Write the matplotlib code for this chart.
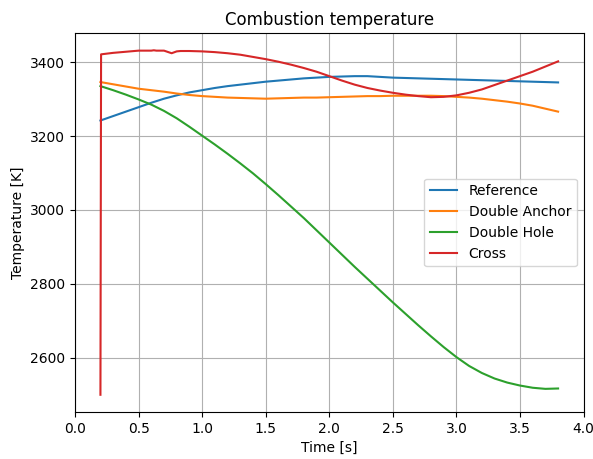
import matplotlib
matplotlib.use("Agg")
import matplotlib.pyplot as plt

# Time grid shared by the smooth series [s]
time = [0.2, 0.3, 0.4, 0.5, 0.6, 0.7, 0.8, 0.9, 1.0, 1.1, 1.2, 1.3, 1.4, 1.5,
        1.6, 1.7, 1.8, 1.9, 2.0, 2.1, 2.2, 2.3, 2.4, 2.5, 2.6, 2.7, 2.8, 2.9,
        3.0, 3.1, 3.2, 3.3, 3.4, 3.5, 3.6, 3.7, 3.8]

reference = [3242, 3254, 3266, 3278, 3290, 3301, 3310, 3318, 3324, 3330, 3335,
             3339, 3343, 3347, 3350, 3353, 3356, 3358, 3360, 3361, 3362, 3362,
             3360, 3358, 3357, 3356, 3355, 3354, 3353, 3352, 3351, 3350, 3349,
             3348, 3347, 3346, 3345]

double_anchor = [3346, 3340, 3334, 3328, 3324, 3320, 3315, 3311, 3308, 3306,
                 3304, 3303, 3302, 3301, 3302, 3303, 3304, 3304, 3305, 3306,
                 3307, 3308, 3308, 3309, 3309, 3309, 3309, 3308, 3306, 3304,
                 3301, 3297, 3293, 3288, 3282, 3274, 3266]

double_hole = [3335, 3324, 3312, 3299, 3285, 3268, 3248, 3225, 3201, 3177,
               3152, 3126, 3099, 3070, 3040, 3009, 2978, 2945, 2912, 2879,
               2846, 2814, 2782, 2750, 2719, 2688, 2658, 2629, 2602, 2578,
               2559, 2544, 2533, 2525, 2519, 2516, 2517]

# Cross case has its own sampling (ignition jump and small glitches)
time_cross = [0.2, 0.205, 0.3, 0.4, 0.5, 0.6, 0.62, 0.64, 0.7, 0.76, 0.8, 0.83,
              0.9, 1.0, 1.1, 1.2, 1.3, 1.4, 1.5, 1.6, 1.7, 1.8, 1.9, 2.0, 2.1,
              2.2, 2.3, 2.4, 2.5, 2.6, 2.7, 2.8, 2.9, 3.0, 3.1, 3.2, 3.3, 3.4,
              3.5, 3.6, 3.7, 3.8]
cross = [2500, 3421, 3425, 3428, 3431, 3431, 3432, 3431, 3431, 3424, 3429, 3430,
         3430, 3429, 3427, 3424, 3420, 3414, 3408, 3401, 3393, 3384, 3374, 3362,
         3350, 3339, 3330, 3323, 3317, 3312, 3308, 3305, 3306, 3310, 3317, 3326,
         3338, 3350, 3362, 3374, 3388, 3402]

fig = plt.figure(figsize=(5.93, 4.59), dpi=100)
ax = fig.add_subplot(111)
fig.subplots_adjust(left=0.1265, right=0.984, bottom=0.1024, top=0.928)

ax.plot(time, reference, label="Reference")
ax.plot(time, double_anchor, label="Double Anchor")
ax.plot(time, double_hole, label="Double Hole")
ax.plot(time_cross, cross, label="Cross")

ax.set_xlim(0, 4)
ax.set_title("Combustion temperature")
ax.set_xlabel("Time [s]")
ax.set_ylabel("Temperature [K]")
ax.grid(True)
ax.legend(loc="center right")

fig.savefig("out.png", dpi=100)
